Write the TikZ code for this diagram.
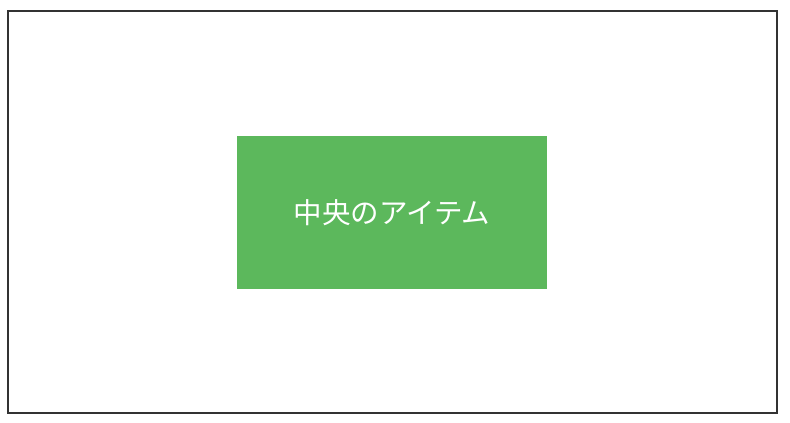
\documentclass[tikz,border=0pt]{standalone}
\usepackage{fontspec}
\newfontfamily\cjk{Noto Sans CJK JP}
\definecolor{boxgreen}{HTML}{5CB85C}
\definecolor{framegray}{HTML}{333333}
\tikzset{
  itembox/.style={fill=boxgreen, draw=none, minimum width=310pt, minimum height=153pt, inner sep=0pt, text=white, font=\cjk\fontsize{28.5}{33}\selectfont},
  framebox/.style={draw=framegray, line width=1.5pt}
}
\begin{document}
\begin{tikzpicture}[x=1pt,y=-1pt]
\useasboundingbox (0,0) rectangle (790,423);
\draw[framebox] (8,11) rectangle (777,413);
\node[itembox] (center) at (392,212.5) {中央のアイテム};
\end{tikzpicture}
\end{document}
